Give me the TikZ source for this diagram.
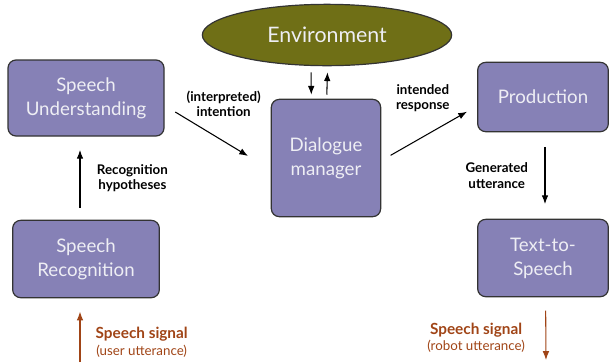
\documentclass[tikz,border=0pt]{standalone}
\usepackage{fontspec}
\setmainfont{Lato}
\usepackage{tikz}
\usetikzlibrary{arrows.meta, positioning, shapes.geometric}
\definecolor{boxfill}{RGB}{134,129,182}
\definecolor{envfill}{RGB}{111,111,22}
\definecolor{signal}{RGB}{160,68,22}
\definecolor{boxtext}{RGB}{238,238,244}

\begin{document}
\begin{tikzpicture}[x=0.75pt, y=-0.75pt, >=Latex]
        \tikzstyle{block}=[rectangle, draw=black!80, line width=0.9pt, rounded corners=6pt, fill=boxfill, text=boxtext, align=center, font=\fontsize{14}{18}\selectfont]
        \tikzstyle{lbl}=[align=center, font=\fontsize{10}{11.5}\selectfont\bfseries]
        \tikzstyle{sig}=[align=center, text=signal, font=\fontsize{10}{12.5}\selectfont]
        \useasboundingbox (0,0) rectangle (610,362);
        \node[ellipse, draw=black!80, line width=0.9pt, fill=envfill, text=boxtext, minimum width=187pt, minimum height=46pt, font=\fontsize{16}{18}\selectfont] (env) at (327,35) {Environment};
        \node[block, minimum width=117pt, minimum height=57pt] (understand) at (86,98) {Speech\\Understanding};
        \node[block, minimum width=82pt, minimum height=88pt] (dialogue) at (326,158) {Dialogue\\manager};
        \node[block, minimum width=98pt, minimum height=52pt] (production) at (543,97) {Production};
        \node[block, minimum width=110pt, minimum height=58pt] (recognition) at (86,259) {Speech\\Recognition};
        \node[block, minimum width=98pt, minimum height=58pt] (tts) at (543,258) {Text-to-\\Speech};
        \coordinate (usersig) at (80,362);
        \coordinate (robotsig) at (546,360);

        \draw[->, thick, shorten <=4.5pt, shorten >=3pt] ([xshift=-12pt]env.south) -- ([xshift=-11pt]dialogue.north);
        \draw[->, thick, shorten <=3pt, shorten >=4.5pt] ([xshift=0.5pt]dialogue.north) -- ([xshift=0.5pt]env.south);
        \draw[->, thick] ([xshift=8pt, yshift=-10.5pt]understand.east) -- node[lbl, xshift=9pt, yshift=22.5pt]{(interpreted)\\intention} ([xshift=-17pt, yshift=1.5pt]dialogue.west);
        \draw[->, thick] ([xshift=7pt, yshift=2pt]dialogue.east) -- node[lbl, xshift=-4.5pt, yshift=26.5pt]{intended\\response} ([xshift=-7.5pt, yshift=-11pt]production.west);
        \draw[->, thick, shorten <=11pt, shorten >=11pt] ([xshift=1.5pt]production.south) -- node[lbl, left=9pt]{Generated\\utterance} ([xshift=1.5pt]tts.north);
        \draw[->, thick, shorten <=9pt, shorten >=10pt] ([xshift=-4.5pt]recognition.north) -- node[lbl, right=9pt]{Recognition\\hypotheses} ([xshift=-4.5pt]understand.south);
        \draw[->, thick, signal] (usersig) -- node[sig, right=8pt, pos=0.39]{{\fontsize{11.5}{12.5}\selectfont\bfseries Speech signal}\\(user utterance)} ([xshift=-4.5pt, yshift=-10pt]recognition.south);
        \draw[->, thick, signal] ([xshift=2pt, yshift=-10pt]tts.south) -- node[sig, left=12pt, pos=0.55]{{\fontsize{11.5}{12.5}\selectfont\bfseries Speech signal}\\(robot utterance)} (robotsig);
    \end{tikzpicture}
\end{document}
